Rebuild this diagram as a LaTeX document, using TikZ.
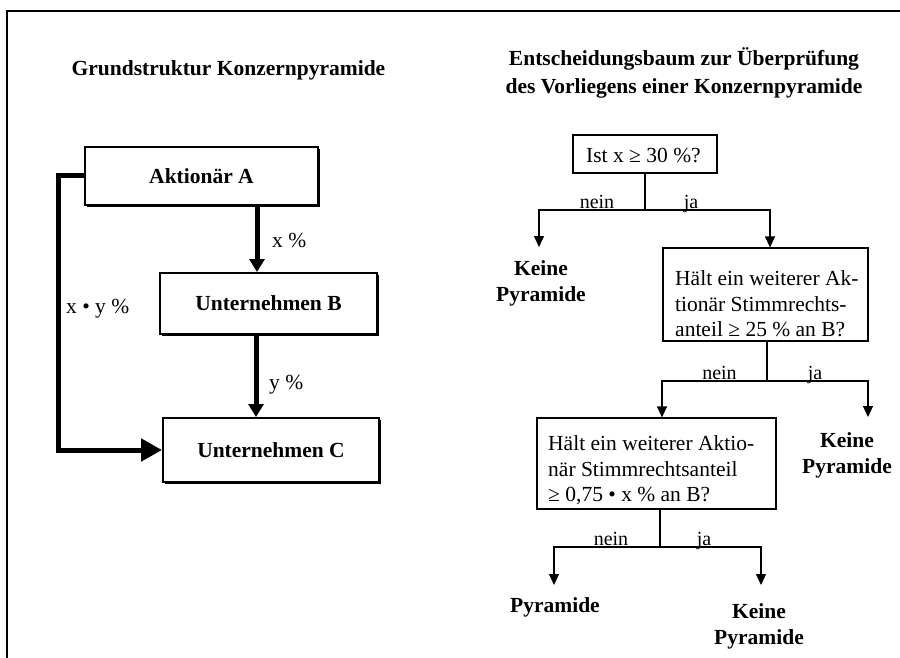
\documentclass[tikz,border=0pt]{standalone}
\usepackage{fontspec}
\setmainfont{Liberation Serif}
\usetikzlibrary{arrows.meta,shadows}
\begin{document}
\begin{tikzpicture}[x=1pt,y=-1pt,
  every node/.style={font=\fontsize{21.5}{25.5}\selectfont, inner sep=0pt},
  bigbox/.style={draw, line width=2pt, fill=white, font=\fontsize{21.5}{25.5}\selectfont\bfseries,
    drop shadow={shadow xshift=1.8pt, shadow yshift=-1.8pt, fill=black, opacity=1}},
  qbox/.style={draw, line width=1.2pt, fill=white},
  heavy/.style={line width=5pt, -{Triangle[length=13pt,width=15pt]}},
  heavylong/.style={line width=5pt, -{Triangle[length=21pt,width=22pt]}},
  branch/.style={line width=1.2pt},
  branchar/.style={line width=1.2pt, -{Triangle[length=11pt,width=10pt]}},
  result/.style={font=\fontsize{21.5}{26}\selectfont\bfseries, align=center},
  yn/.style={font=\fontsize{20}{24}\selectfont, anchor=base},
  pct/.style={anchor=base west}
]
\useasboundingbox (0,0) rectangle (900,658);
% frame
\draw[line width=1.4pt] (7,658) -- (7,11) -- (900,11);

% titles
\node[anchor=base, font=\fontsize{21.5}{25.5}\selectfont\bfseries] (tl) at (228.5,76) {Grundstruktur Konzernpyramide};
\node[align=center, font=\fontsize{21.5}{28}\selectfont\bfseries] (tr) at (684,73) {Entscheidungsbaum zur Überprüfung\\des Vorliegens einer Konzernpyramide};

% left structure
\node[bigbox, minimum width=233pt, minimum height=58pt] (A) at (201.5,176) {Aktionär A};
\node[bigbox, minimum width=217pt, minimum height=61pt] (B) at (268.5,303.5) {Unternehmen B};
\node[bigbox, minimum width=216pt, minimum height=64pt] (C) at (271,450) {Unternehmen C};

\draw[heavy] (A.south -| 257,0) -- (B.north -| 257,0);
\draw[heavy] (B.south -| 256,0) -- (C.north -| 256,0);
\draw[heavylong] (A.west) -- (A.west -| 58,0) |- (C.west);

\node[pct] (px) at (272,247) {x \%};
\node[pct] (py) at (269,389) {y \%};
\node[pct] (pxy) at (66,313) {x • y \%};

% decision tree
\node[qbox, minimum width=144pt, minimum height=38pt] (T1) at (645,154) {};
\node[anchor=base west] (T1t) at (586,163) {Ist x ≥ 30 \%?};

\node[qbox, minimum width=205pt, minimum height=93pt] (T2) at (765.5,294.5) {};
\node[anchor=north west, align=left] (T2t) at (675,270.5) {Hält ein weiterer Ak-\\tionär Stimmrechts-\\anteil ≥ 25 \% an B?};

\node[qbox, minimum width=239pt, minimum height=91pt] (T3) at (656.5,463.5) {};
\node[anchor=north west, align=left] (T3t) at (548,435.5) {Hält ein weiterer Aktio-\\när Stimmrechtsanteil\\≥ 0,75 • x \% an B?};

\node[result] (R1) at (541,283.5) {Keine\\Pyramide};
\node[result] (R2) at (847,455) {Keine\\Pyramide};
\node[result, anchor=base] (R3) at (555,612) {Pyramide};
\node[result] (R4) at (759,626) {Keine\\Pyramide};

% split 1
\coordinate (s1) at (645,210);
\coordinate (n1) at (539,247);
\draw[branch] (T1.south) -- (s1);
\draw[branchar] (s1) -| (n1);
\draw[branchar] (s1) -| (T2.north -| 770,0);
\node[yn] (ne1) at (597,208) {nein};
\node[yn] (ja1) at (691,208) {ja};

% split 2
\coordinate (s2) at (767,381);
\coordinate (n2) at (868,417);
\draw[branch] (T2.south -| 767,0) -- (s2);
\draw[branchar] (s2) -| (T3.north -| 662,0);
\draw[branchar] (s2) -| (n2);
\node[yn] (ne2) at (719.5,379) {nein};
\node[yn] (ja2) at (815,379) {ja};

% split 3
\coordinate (s3) at (660,547);
\coordinate (n3a) at (554,585);
\coordinate (n3b) at (761,585);
\draw[branch] (T3.south -| 660,0) -- (s3);
\draw[branchar] (s3) -| (n3a);
\draw[branchar] (s3) -| (n3b);
\node[yn] (ne3) at (611,545) {nein};
\node[yn] (ja3) at (704,545) {ja};
\end{tikzpicture}
\end{document}
